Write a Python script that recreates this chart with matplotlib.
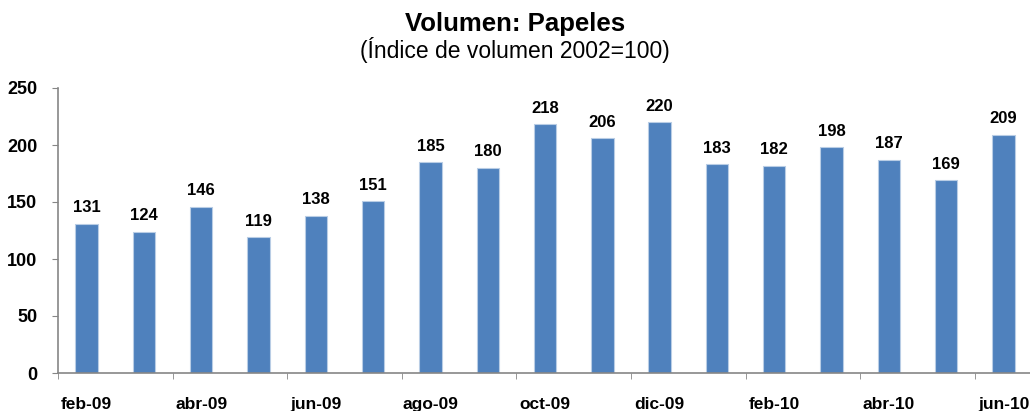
import matplotlib
matplotlib.use("Agg")
import matplotlib.pyplot as plt
import numpy as np

months = ["feb-09", "mar-09", "abr-09", "may-09", "jun-09", "jul-09", "ago-09", "sep-09",
          "oct-09", "nov-09", "dic-09", "ene-10", "feb-10", "mar-10", "abr-10", "may-10", "jun-10"]
values = [131, 124, 146, 119, 138, 151, 185, 180, 218, 206, 220, 183, 182, 198, 187, 169, 209]
yticks = [0, 50, 100, 150, 200, 250]

plt.rcParams['font.family'] = ['Liberation Sans', 'DejaVu Sans']

fig = plt.figure(figsize=(10.30, 4.11), dpi=100)
ax = fig.add_axes([58/1030, 38/411, 17*57.3/1030, 285/411])

x = np.arange(len(values))
bars = ax.bar(x, values, width=0.39, color="#4F81BD", edgecolor="#B9CDE5", linewidth=0.8)
for xi, v in zip(x, values):
    ax.annotate(str(v), (xi, v), xytext=(0, 6), textcoords="offset points",
                ha="center", va="bottom", fontsize=12, fontweight="bold")

ax.set_xlim(-0.5, len(values) - 0.5)
ax.set_ylim(0, 250)
ax.set_yticks(yticks)
ax.set_yticklabels([str(t) for t in yticks], fontsize=13, fontweight="bold")

ax.set_xticks(x[::2])
ax.set_xticklabels(months[::2], fontsize=12.5, fontweight="bold")
ax.tick_params(axis="x", which="major", length=0, pad=17)
ax.set_xticks(np.arange(-0.5, len(values), 2), minor=True)
ax.tick_params(axis="x", which="minor", length=4, color="#868686", direction="out")
ax.tick_params(axis="y", length=4, color="#868686", direction="out", pad=11)

for s in ["top", "right"]:
    ax.spines[s].set_visible(False)
for s in ["left", "bottom"]:
    ax.spines[s].set_color("#868686")
    ax.spines[s].set_linewidth(1.2)

fig.text(0.5, 1 - 24/411, "Volumen: Papeles", ha="center", va="center", fontsize=18.5, fontweight="bold")
fig.text(0.5, 1 - 50/411, "(Índice de volumen 2002=100)", ha="center", va="center", fontsize=16.5)

fig.savefig("out.png", dpi=100)
